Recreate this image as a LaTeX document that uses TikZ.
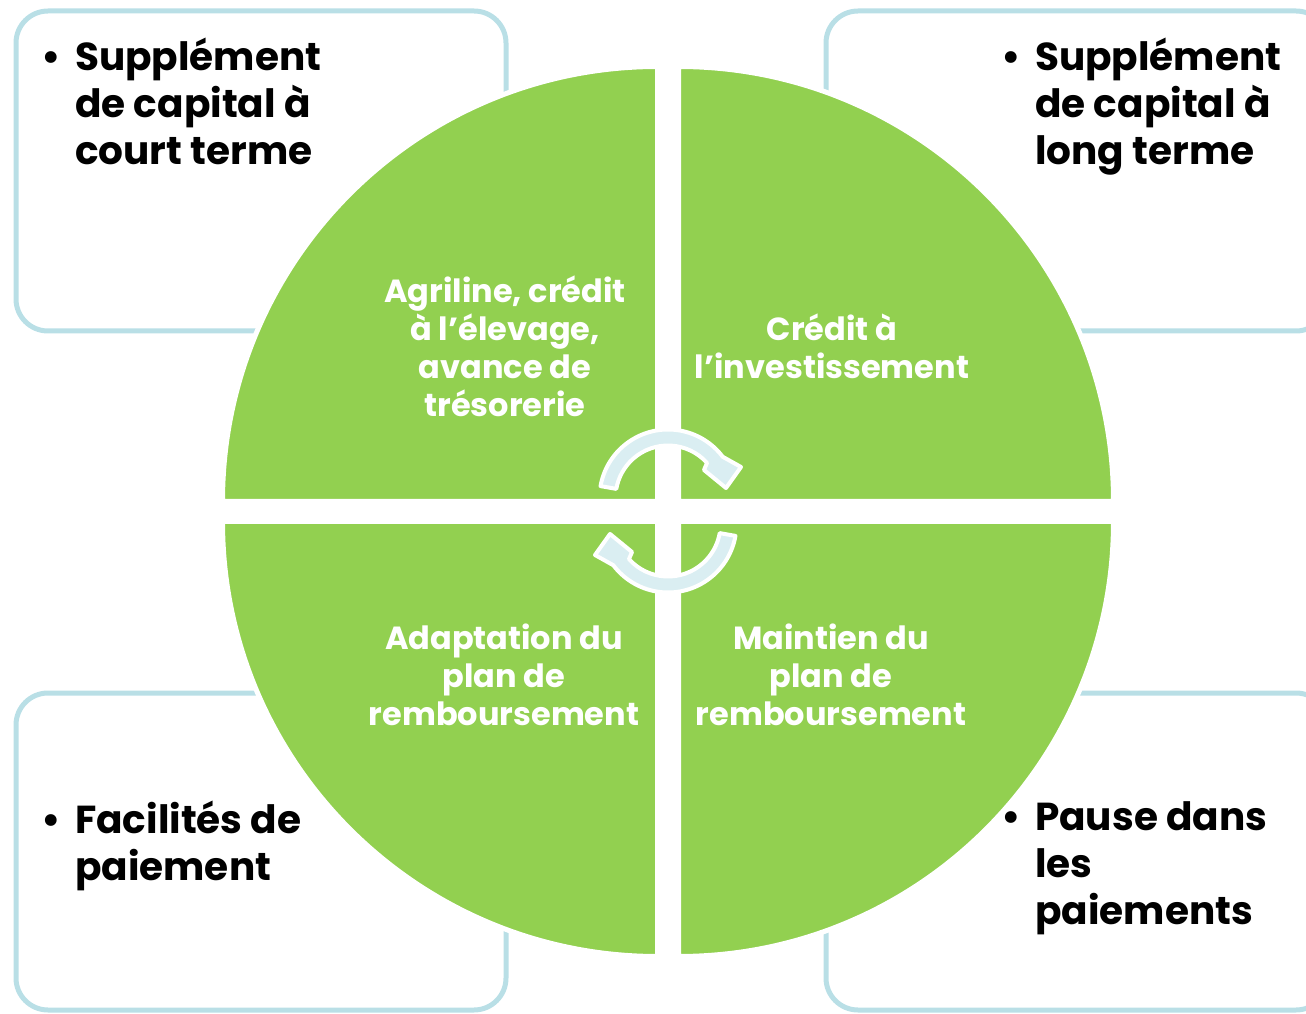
\documentclass[tikz,border=0pt]{standalone}
\usepackage{fontspec}
\setmainfont{Poppins}
\usetikzlibrary{positioning}

\definecolor{quadgreen}{RGB}{146,208,80}
\definecolor{boxblue}{RGB}{185,223,230}
\definecolor{arrowblue}{RGB}{218,238,242}

\tikzset{
  infobox/.style={draw=boxblue, line width=5pt, rounded corners=32pt},
  quarter/.style={fill=quadgreen, draw=white, line width=5pt},
  cyclearrow/.style={fill=arrowblue, draw=white, line width=4pt, line join=round},
  boxtext/.style={font=\bfseries\fontsize{39}{47}\selectfont, align=left,
    anchor=north west, inner sep=0pt},
  quadtext/.style={font=\bfseries\fontsize{32}{38}\selectfont, text=white,
    align=center, inner sep=0pt}
}

\begin{document}
\begin{tikzpicture}[x=1pt, y=1pt]
  \useasboundingbox (0,0) rectangle (1306,1013);

  % the four boxes behind the circle
  \draw[infobox] (16,682) rectangle (506,1002);
  \draw[infobox] (826,682) rectangle (1328,1002);
  \draw[infobox] (16,3) rectangle (506,320);
  \draw[infobox] (826,3) rectangle (1328,320);

  % quarters of the circle
  \filldraw[quarter] (657.5,511.5) -- (222.5,511.5) arc[start angle=180, end angle=90, radius=435] -- cycle;
  \filldraw[quarter] (678.5,511.5) -- (678.5,946.5) arc[start angle=90, end angle=0, radius=435] -- cycle;
  \filldraw[quarter] (657.5,491.5) -- (222.5,491.5) arc[start angle=180, end angle=270, radius=435] -- cycle;
  \filldraw[quarter] (678.5,491.5) -- (1113.5,491.5) arc[start angle=0, end angle=-90, radius=435] -- cycle;

  % the two turning arrows in the middle
  \foreach \cy/\turn in {515/0, 489/180}
    \draw[cyclearrow, shift={(668,\cy)}, rotate=\turn]
      (170:68.5) arc[start angle=170, end angle=37, radius=68.5]
      -- (73,31) -- (58,10) -- (36,28) -- (42:52.5)
      arc[start angle=42, end angle=170, radius=52.5] -- cycle;

  % texts in the quarters
  \node[quadtext] (agri) at (505,667) {Agriline, crédit\\à l’élevage,\\avance de\\trésorerie};
  \node[quadtext] (invest) at (832,667) {Crédit à\\l’investissement};
  \node[quadtext] (adapt) at (504,338) {Adaptation du\\plan de\\remboursement};
  \node[quadtext] (maintain) at (831,338) {Maintien du\\plan de\\remboursement};

  % texts in the boxes
  \node[boxtext] (court) at (75,975) {\llap{\textbullet\hspace{14pt}}Supplément\\de capital à\\court terme};
  \node[boxtext] (long) at (1035,975) {\llap{\textbullet\hspace{14pt}}Supplément\\de capital à\\long terme};
  \node[boxtext] (facil) at (75,212) {\llap{\textbullet\hspace{14pt}}Facilités de\\paiement};
  \node[boxtext] (pause) at (1035,212) {\llap{\textbullet\hspace{14pt}}Pause dans\\les\\paiements};
\end{tikzpicture}
\end{document}
